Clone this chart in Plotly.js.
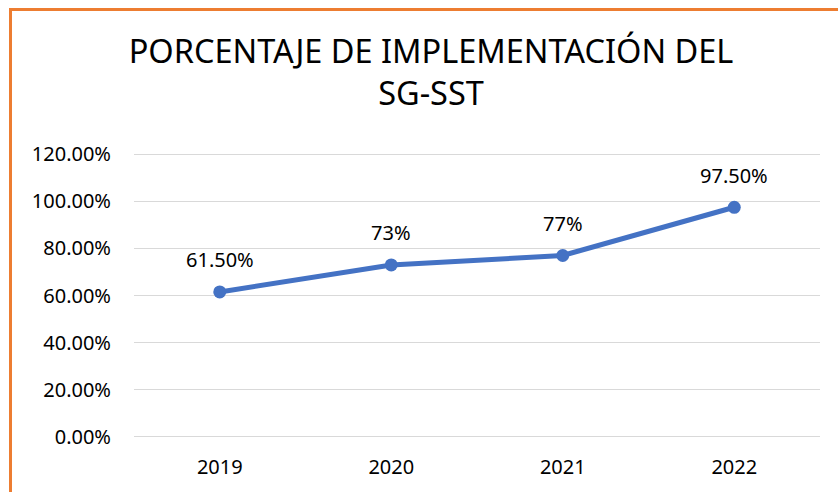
<!DOCTYPE html>
<html><head><meta charset="utf-8">
<script src="https://cdn.plot.ly/plotly-3.0.1.min.js"></script>
<style>
html,body{margin:0;padding:0;background:#fff;overflow:hidden}
#frame{position:absolute;left:9px;top:8px;width:900px;height:600px;border-left:3px solid #ED7D31;border-top:3px solid #ED7D31;box-sizing:border-box;pointer-events:none;z-index:5}
#chart{position:absolute;left:0;top:0;width:838px;height:492px}
</style></head>
<body>
<div id="chart"></div>
<div id="frame"></div>
<script>
const years = ['2019', '2020', '2021', '2022'];
const values = [0.615, 0.73, 0.77, 0.975];
const labels = ['61.50%', '73%', '77%', '97.50%'];
const yTicks = [0, 0.2, 0.4, 0.6, 0.8, 1.0, 1.2];
const yTickText = ['0.00%', '20.00%', '40.00%', '60.00%', '80.00%', '100.00%', '120.00%'];
const titleText = 'PORCENTAJE DE IMPLEMENTACIÓN DEL<br>SG-SST';

const font = 'Noto Sans, Open Sans, sans-serif';
const trace = {
  x: years, y: values, type: 'scatter', mode: 'lines+markers',
  line: {color: '#4472C4', width: 5},
  marker: {color: '#4472C4', size: 13},
  hoverinfo: 'skip'
};
const annotations = years.map((yr, i) => ({
  x: i, y: values[i], xref: 'x', yref: 'y', text: labels[i], showarrow: false,
  yshift: 32, font: {family: font, size: 20, color: '#000'}
}));
const layout = {
  width: 838, height: 492,
  margin: {l: 134, r: 18, t: 151.6, b: 52.6},
  paper_bgcolor: '#fff', plot_bgcolor: '#fff',
  title: {text: titleText, x: 431/838, xanchor: 'center', y: 0.872, yanchor: 'middle',
          font: {family: font, size: 32.5, color: '#000'}},
  showlegend: false,
  xaxis: {type: 'category', range: [-0.5, 3.5], showgrid: false, zeroline: false,
          showline: false, ticks: '', ticklabelstandoff: 14,
          tickfont: {family: font, size: 20, color: '#000'}},
  yaxis: {range: [-0.01, 1.21], tickvals: yTicks, ticktext: yTickText, showgrid: true,
          gridcolor: '#D9D9D9', gridwidth: 1.5, zeroline: false, showline: false, ticks: '',
          ticklabelstandoff: 22,
          tickfont: {family: font, size: 20, color: '#000'}},
  annotations: annotations
};
Plotly.newPlot('chart', [trace], layout, {displayModeBar: false, staticPlot: true});
</script>
</body></html>
